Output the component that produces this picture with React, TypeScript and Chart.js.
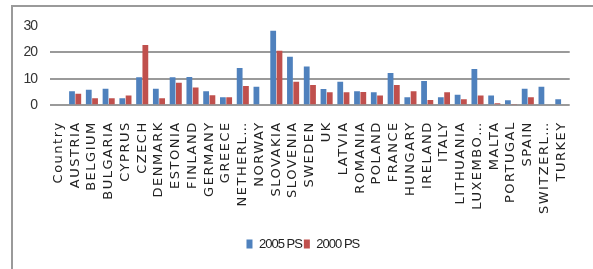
import React, { useEffect, useRef } from "react";
import { Chart, registerables } from "chart.js";

Chart.register(...registerables);

const categories = [
  "Country", "AUSTRIA", "BELGIUM", "BULGARIA", "CYPRUS", "CZECH", "DENMARK",
  "ESTONIA", "FINLAND", "GERMANY", "GREECE", "NETHERL…", "NORWAY", "SLOVAKIA",
  "SLOVENIA", "SWEDEN", "UK", "LATVIA", "ROMANIA", "POLAND", "FRANCE",
  "HUNGARY", "IRELAND", "ITALY", "LITHUANIA", "LUXEMBO…", "MALTA", "PORTUGAL",
  "SPAIN", "SWITZERL…", "TURKEY",
];

const ps2005 = [
  0, 5.3, 5.9, 6.3, 2.7, 10.6, 6.3, 10.6, 10.7, 5.3, 3.0, 14.1, 7.0, 28.2,
  18.4, 14.7, 6.2, 8.9, 5.3, 4.9, 12.2, 3.0, 9.2, 3.0, 4.0, 13.7, 3.7, 1.9,
  6.3, 7.0, 2.3,
];

const ps2000 = [
  0, 4.4, 2.7, 2.7, 3.7, 22.8, 2.7, 8.5, 6.7, 3.8, 3.0, 7.3, 0, 20.6, 8.9,
  7.7, 4.9, 4.9, 5.0, 3.7, 7.7, 5.3, 2.0, 4.9, 2.3, 3.7, 0.8, 0.5, 3.0, 0, 0,
];

const seriesNames = ["2005 PS", "2000 PS"];
const yTicks = [0, 10, 20, 30];

const narrowFont = '"Liberation Sans", Arial, sans-serif';

const letterSpacingPlugin = {
  id: "letterSpacing",
  beforeDraw(chart: any) {
    (chart.ctx as any).letterSpacing = "-1px";
  },
  afterDatasetsDraw(chart: any) {
    (chart.ctx as any).letterSpacing = "1.5px";
  },
  afterDraw(chart: any) {
    (chart.ctx as any).letterSpacing = "0px";
  },
};

export default function App() {
  const ref = useRef<HTMLCanvasElement>(null);

  useEffect(() => {
    if (!ref.current) return;
    const chart = new Chart(ref.current, {
      type: "bar",
      data: {
        labels: categories,
        datasets: [
          {
            label: seriesNames[0],
            data: ps2005,
            backgroundColor: "#4F81BD",
            borderWidth: 0,
            barPercentage: 0.92,
            categoryPercentage: 0.75,
          },
          {
            label: seriesNames[1],
            data: ps2000,
            backgroundColor: "#C0504D",
            borderWidth: 0,
            barPercentage: 0.92,
            categoryPercentage: 0.75,
          },
        ],
      },
      options: {
        animation: false,
        responsive: false,
        maintainAspectRatio: false,
        layout: { padding: { top: 26, bottom: 8.5, left: 0, right: 4 } },
        plugins: {
          tooltip: { enabled: false },
          legend: {
            position: "bottom",
            fullSize: false,
            labels: {
              boxWidth: 6,
              boxHeight: 9,
              padding: 2,
              color: "#222",
              font: { family: narrowFont, size: 13 },
            },
          },
        },
        scales: {
          x: {
            grid: { display: false, drawTicks: false },
            border: { display: false },
            ticks: {
              autoSkip: false,
              minRotation: 90,
              maxRotation: 90,
              padding: 16,
              color: "#222",
              font: { family: '"DejaVu Sans", sans-serif', size: 13 },
              z: 1,
            },
            afterFit: (scale: any) => {
              scale.height = 130.2;
            },
          },
          y: {
            min: 0,
            max: 30,
            afterBuildTicks: (scale: any) => {
              scale.ticks = yTicks.map((v) => ({ value: v }));
            },
            grid: {
              drawTicks: false,
              lineWidth: 2,
              color: (ctx: any) => (ctx.tick && ctx.tick.value === 30 ? "rgba(0,0,0,0)" : "#9a9a9a"),
            },
            border: { display: false },
            ticks: {
              padding: 13,
              color: "#333",
              font: { family: narrowFont, size: 14 },
            },
            afterFit: (scale: any) => {
              scale.width = 50;
            },
          },
        },
      },
      plugins: [letterSpacingPlugin],
    });
    return () => chart.destroy();
  }, []);

  return (
    <div style={{ position: "fixed", left: 0, top: 0, width: 593, height: 269, background: "#fff", overflow: "hidden" }}>
      <div
        style={{
          position: "absolute",
          left: 11,
          top: 5,
          right: -10,
          bottom: -10,
          borderLeft: "2px solid #9a9a9a",
          borderTop: "2px solid #9a9a9a",
        }}
      />
      <canvas ref={ref} width={593} height={269} style={{ position: "absolute", left: 0, top: 0 }} />
    </div>
  );
}
